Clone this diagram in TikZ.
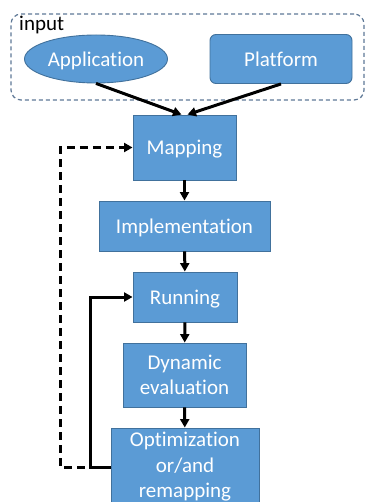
\documentclass[tikz,border=0pt]{standalone}
\usepackage{fontspec}
\setmainfont{Carlito}[Ligatures=NoCommon]
\usetikzlibrary{shapes.geometric,arrows.meta}
\definecolor{boxfill}{HTML}{5B9BD5}
\definecolor{boxline}{HTML}{41719C}
\definecolor{dashline}{HTML}{5E7896}
\begin{document}
\begin{tikzpicture}[x=1pt,y=-1pt,
  blk/.style={draw=boxline,line width=0.9pt,fill=boxfill,text=white,
    font=\fontsize{21}{25.5}\selectfont,align=center,inner sep=0pt},
  oneline/.style={text height=15pt,text depth=0pt},
  arr/.style={line width=3pt,-{Triangle[length=8.5pt,width=9pt]}},
  ]
\useasboundingbox (0,0) rectangle (366,502);
% input group
\node[draw=dashline,line width=1.2pt,rounded corners=10pt,
      minimum width=353pt,minimum height=86pt,inner sep=0pt,
      dash pattern=on 4pt off 3pt] (inputbox) at (187.5,57) {};
\node[anchor=base west,font=\fontsize{21}{25.5}\selectfont,inner sep=0pt] (inlabel) at (19,31) {input};
\node[blk,oneline,ellipse,minimum width=143pt,minimum height=48pt] (app) at (96,59) {Application};
\node[blk,oneline,rounded corners=6pt,minimum width=142pt,minimum height=49pt] (plat) at (281,59) {Platform};
% chain
\node[blk,oneline,minimum width=103pt,minimum height=65pt] (map) at (184.5,147.5) {Mapping};
\node[blk,oneline,minimum width=171pt,minimum height=50pt] (impl) at (184.5,226) {Implementation};
\node[blk,oneline,minimum width=104pt,minimum height=50pt] (run) at (185,297) {Running};
\node[blk,minimum width=123pt,minimum height=64pt] (dyn) at (184.5,375) {Dynamic\\evaluation};
\node[blk,minimum width=148pt,minimum height=78pt] (opt) at (185,467) {Optimization\\or/and\\remapping};
% arrows
\draw[arr] (app.south) -- ([xshift=-3pt]map.north);
\draw[arr] (plat.south) -- ([xshift=3pt]map.north);
\draw[arr] (map) -- (impl);
\draw[arr] (impl) -- (run);
\draw[arr] (run) -- (dyn);
\draw[arr] (dyn) -- (opt);
% feedback
\coordinate (d1) at (60,467);
\coordinate (s1) at (90,467);
\draw[arr,dash pattern=on 8pt off 5pt] (opt.west) -- (d1) |- (map.west);
\draw[arr] (opt.west) -- (s1) |- (run.west);
\end{tikzpicture}
\end{document}
